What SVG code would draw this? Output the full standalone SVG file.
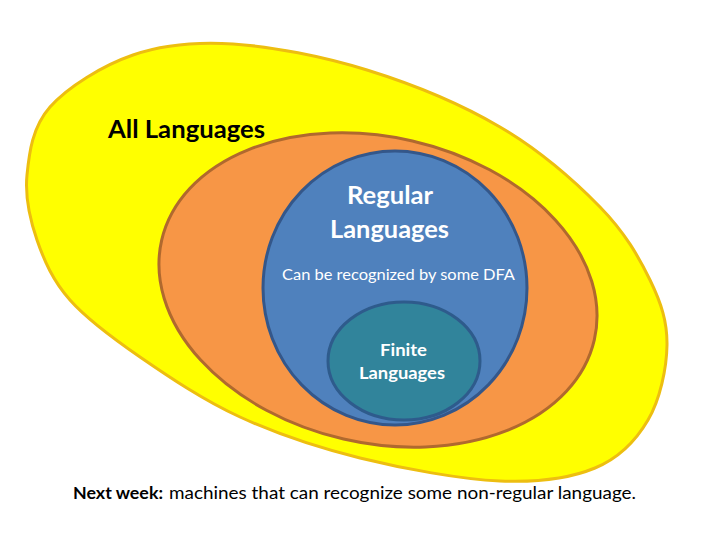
<svg xmlns="http://www.w3.org/2000/svg" width="720" height="540" viewBox="0 0 720 540">
<style>
text { font-family: "Lato", "Liberation Sans", sans-serif; }
.b { font-weight: bold; }
.w { fill: #ffffff; }
.k { fill: #000000; }
</style>
<rect width="720" height="540" fill="#ffffff"/>
<g id="all">
<path d="M27,175 C29.2,152.8 32.3,127 50,107 C67.7,87 102.5,65.5 133,55 C163.5,44.5 194,41.5 233,44 C272,46.5 322.5,56.2 367,70 C411.5,83.8 461.2,104.2 500,127 C538.8,149.8 575,181.5 600,207 C625,232.5 638.8,257 650,280 C661.2,303 667.3,321.7 667,345 C666.7,368.3 660,399.5 648,420 C636,440.5 619.7,457.8 595,468 C570.3,478.2 539.2,482.7 500,481 C460.8,479.3 403.3,468.7 360,458 C316.7,447.3 276.7,433.8 240,417 C203.3,400.2 168.3,376.5 140,357 C111.7,337.5 87.2,319.5 70,300 C52.8,280.5 44.2,260.8 37,240 C29.8,219.2 24.8,197.2 27,175 Z" fill="#FFFF00" stroke="#EDBE10" stroke-width="3"/>
<text class="b k" x="108" y="138" font-size="24" textLength="157" lengthAdjust="spacingAndGlyphs">All Languages</text>
</g>
<g id="orange">
<ellipse cx="378" cy="290" rx="222" ry="153" transform="rotate(13 378 290)" fill="#F79646" stroke="#B0692E" stroke-width="3"/>
</g>
<g id="regular">
<ellipse cx="395" cy="288" rx="132" ry="137" fill="#4F81BD" stroke="#34578A" stroke-width="3"/>
<text class="b w" x="390" y="204" font-size="24" text-anchor="middle" textLength="86" lengthAdjust="spacingAndGlyphs">Regular</text>
<text class="b w" x="389.5" y="238" font-size="24" text-anchor="middle" textLength="119" lengthAdjust="spacingAndGlyphs">Languages</text>
<text class="w" x="398.5" y="280" font-size="14.5" text-anchor="middle" textLength="233" lengthAdjust="spacingAndGlyphs">Can be recognized by some DFA</text>
</g>
<g id="finite">
<ellipse cx="404" cy="361" rx="76" ry="59" fill="#31849B" stroke="#2E5B8C" stroke-width="3"/>
<text class="b w" x="403.5" y="356" font-size="17" text-anchor="middle" textLength="47" lengthAdjust="spacingAndGlyphs">Finite</text>
<text class="b w" x="402" y="379" font-size="17" text-anchor="middle" textLength="86" lengthAdjust="spacingAndGlyphs">Languages</text>
</g>
<g id="caption">
<text class="k" y="499" font-size="17"><tspan class="b" x="73" textLength="90" lengthAdjust="spacingAndGlyphs">Next week:</tspan><tspan x="169" textLength="467" lengthAdjust="spacingAndGlyphs">machines that can recognize some non-regular language.</tspan></text>
</g>
</svg>
